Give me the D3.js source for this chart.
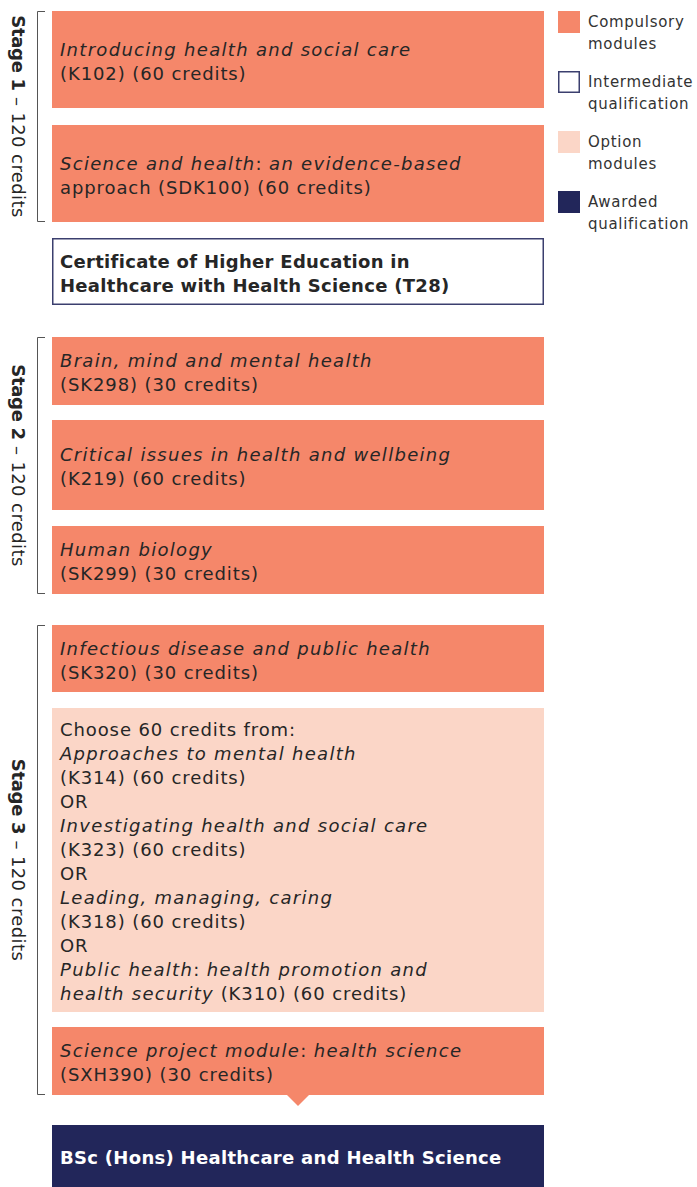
<!DOCTYPE html>
<html>
<head>
<meta charset="utf-8">
<script src="https://cdn.jsdelivr.net/npm/d3@7"></script>
<style>
body { margin: 0; background: #fff; }
svg { display: block; font-family: "DejaVu Sans", "Open Sans", sans-serif; }
</style>
</head>
<body>
<script>
"use strict";

// stages down the left side
const stageNames = ["Stage 1", "Stage 2", "Stage 3"];
const stageCredits = ["120 credits", "120 credits", "120 credits"];

// every box top to bottom; stage -1 means no bracket
const boxStage = [0, 0, -1, 1, 1, 1, 2, 2, 2, -1];
const boxKind = ["compulsory", "compulsory", "intermediate", "compulsory", "compulsory", "compulsory",
	"compulsory", "option", "compulsory", "awarded"];
// each line is a list of [text, italic]
const boxLines = [
	[[["Introducing health and social care", true]], [["(K102) (60 credits)", false]]],
	[[["Science and health", true], [": ", false], ["an evidence-based", true]], [["approach (SDK100) (60 credits)", false]]],
	[[["Certificate of Higher Education in", false]], [["Healthcare with Health Science (T28)", false]]],
	[[["Brain, mind and mental health", true]], [["(SK298) (30 credits)", false]]],
	[[["Critical issues in health and wellbeing", true]], [["(K219) (60 credits)", false]]],
	[[["Human biology", true]], [["(SK299) (30 credits)", false]]],
	[[["Infectious disease and public health", true]], [["(SK320) (30 credits)", false]]],
	[[["Choose 60 credits from:", false]],
	 [["Approaches to mental health", true]], [["(K314) (60 credits)", false]], [["OR", false]],
	 [["Investigating health and social care", true]], [["(K323) (60 credits)", false]], [["OR", false]],
	 [["Leading, managing, caring", true]], [["(K318) (60 credits)", false]], [["OR", false]],
	 [["Public health", true], [": ", false], ["health promotion and", true]],
	 [["health security", true], [" (K310) (60 credits)", false]]],
	[[["Science project module", true], [": ", false], ["health science", true]], [["(SXH390) (30 credits)", false]]],
	[[["BSc (Hons) Healthcare and Health Science", false]]]
];

// legend
const legendKinds = ["compulsory", "intermediate", "option", "awarded"];
const legendLabels = [["Compulsory", "modules"], ["Intermediate", "qualification"], ["Option", "modules"], ["Awarded", "qualification"]];

//layout
const W = 697, H = 1187;
const boxX = 52, boxW = 492;
const boxHeights = [97, 97, 67, 68, 90, 68, 67, 304, 68, 62];
const gapAfter = [17, 16, 32, 15, 16, 31, 16, 15, 30, 0];
const lineH = 24;
const fill = { compulsory: "#f5876a", intermediate: "#ffffff", option: "#fbd6c7", awarded: "#22265a" };

let tops = [];
let acc = 11;
for (let i = 0; i < boxHeights.length; ++i)
{
	tops.push(acc);
	acc += boxHeights[i] + gapAfter[i];
}
let y = d3.scaleLinear().domain([0, H]).range([0, H]);

let svg = d3.select("body").append("svg")
	.attr("width", W)
	.attr("height", H);

//boxes
let boxes = svg.selectAll("g.box")
	.data(boxLines)
	.join("g")
	.attr("class", "box")
	.attr("transform", function(d, i) { return "translate(" + boxX + "," + y(tops[i]) + ")"; });

boxes.append("rect")
	.attr("x", function(d, i) { return boxKind[i] === "intermediate" ? 0.75 : 0; })
	.attr("y", function(d, i) { return boxKind[i] === "intermediate" ? 0.75 : 0; })
	.attr("width", function(d, i) { return boxKind[i] === "intermediate" ? boxW - 1.5 : boxW; })
	.attr("height", function(d, i) { return boxKind[i] === "intermediate" ? boxHeights[i] - 1.5 : boxHeights[i]; })
	.attr("fill", function(d, i) { return fill[boxKind[i]]; })
	.attr("stroke", function(d, i) { return boxKind[i] === "intermediate" ? "#3b3f6e" : "none"; })
	.attr("stroke-width", 1.5);

boxes.each(function(lines, i)
{
	let g = d3.select(this);
	let bold = boxKind[i] === "intermediate" || boxKind[i] === "awarded";
	let first = boxHeights[i] / 2 + 2 - (lines.length - 1) * lineH / 2;
	lines.forEach(function(line, k)
	{
		let t = g.append("text")
			.attr("x", 8)
			.attr("y", first + k * lineH)
			.attr("dy", "0.36em")
			.attr("font-size", 18)
			.attr("font-weight", bold ? 700 : 400)
			.attr("fill", boxKind[i] === "awarded" ? "#ffffff" : "#262626");
		for (let seg of line)
		{
			t.append("tspan")
				.attr("font-style", seg[1] ? "italic" : "normal")
				.attr("letter-spacing", bold ? 0.3 : (seg[1] ? 1.3 : 0.9))
				.attr("xml:space", "preserve")
				.text(seg[0]);
		}
	});
});

//pointer under the last module
let last = boxKind.lastIndexOf("compulsory");
let tipY = y(tops[last] + boxHeights[last]);
svg.append("path")
	.attr("d", d3.line()([[286, tipY - 1], [310, tipY - 1], [298, tipY + 11]]))
	.attr("fill", fill.compulsory);

//stage brackets and labels
stageNames.forEach(function(name, s)
{
	let idx = [];
	boxStage.forEach(function(v, i) { if (v === s) idx.push(i); });
	let top = y(tops[idx[0]]);
	let bottom = y(tops[idx[idx.length - 1]] + boxHeights[idx[idx.length - 1]]);
	svg.append("path")
		.attr("d", d3.line()([[45, top + 0.5], [37.5, top + 0.5], [37.5, bottom - 0.5], [45, bottom - 0.5]]))
		.attr("fill", "none")
		.attr("stroke", "#555")
		.attr("stroke-width", 1);
	let t = svg.append("text")
		.attr("transform", "translate(18," + (top + bottom) / 2 + ") rotate(90)")
		.attr("text-anchor", "middle")
		.attr("dy", "0.36em")
		.attr("font-size", 18)
		.attr("fill", "#262626");
	t.append("tspan").attr("font-weight", 700).attr("letter-spacing", -0.3).text(name);
	t.append("tspan").attr("xml:space", "preserve").attr("letter-spacing", 0.4).text(" \u2013 " + stageCredits[s]);
});

//legend
let legend = svg.selectAll("g.legend")
	.data(legendKinds)
	.join("g")
	.attr("class", "legend")
	.attr("transform", function(d, i) { return "translate(558," + (11 + i * 60) + ")"; });
legend.append("rect")
	.attr("x", function(d) { return d === "intermediate" ? 0.75 : 0; })
	.attr("y", function(d) { return d === "intermediate" ? 0.75 : 0; })
	.attr("width", function(d) { return d === "intermediate" ? 20.5 : 22; })
	.attr("height", function(d) { return d === "intermediate" ? 20.5 : 22; })
	.attr("fill", function(d) { return fill[d]; })
	.attr("stroke", function(d) { return d === "intermediate" ? "#3b3f6e" : "none"; })
	.attr("stroke-width", 1.5);
legend.each(function(d, i)
{
	let g = d3.select(this);
	legendLabels[i].forEach(function(label, k)
	{
		g.append("text")
			.attr("x", 30)
			.attr("y", 11 + k * 22)
			.attr("dy", "0.36em")
			.attr("font-size", 15)
			.attr("letter-spacing", 0.7)
			.attr("fill", "#333")
			.text(label);
	});
});
</script>
</body>
</html>
